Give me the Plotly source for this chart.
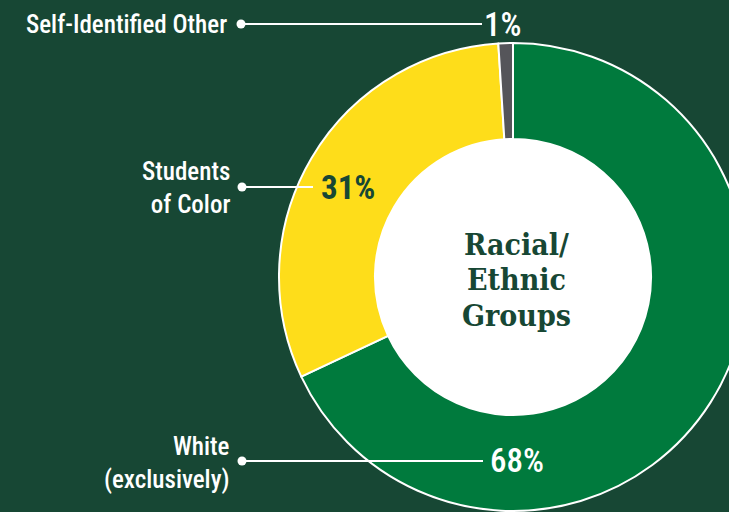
import plotly.graph_objects as go

# ---- data ----
groups = ["White (exclusively)", "Students of Color", "Self-Identified Other"]
label_lines = ["White<br>(exclusively)", "Students<br>of Color", "Self-Identified Other"]
shares = [68, 31, 1]
pct_labels = [f"{v}%" for v in shares]
slice_colors = ["#007a3d", "#fedd1a", "#55555a"]
center_title = ["Racial/", "Ethnic", "Groups"]

BG = "#174734"
W, H = 760, 520  # canvas a bit larger than the window so the ring is cropped like the original

def px(x):
    return x / W

def py(y):
    return 1 - y / H

cx, cy, R = 513, 277, 234

fig = go.Figure()
fig.add_trace(go.Pie(
    labels=groups, values=shares, sort=False, direction="clockwise", rotation=0,
    hole=0.59, textinfo="none", hoverinfo="label+percent", showlegend=False,
    marker=dict(colors=slice_colors, line=dict(color="white", width=2)),
    domain=dict(x=[px(cx - R), px(cx + R)], y=[py(cy + R), py(cy - R)]),
))

shapes = []
# white disc behind the hole
shapes.append(dict(type="circle", xref="paper", yref="paper", layer="below",
                   x0=px(cx - 180), x1=px(cx + 180), y0=py(cy + 180), y1=py(cy - 180),
                   fillcolor="white", line=dict(width=0)))

# leader lines: (y, x_start, x_end)
leaders = [(461, 242, 483), (187, 242, 313), (24, 241, 482)]
for (ly, x0, x1) in leaders:
    shapes.append(dict(type="line", xref="paper", yref="paper", layer="above",
                       x0=px(x0), x1=px(x1), y0=py(ly), y1=py(ly),
                       line=dict(color="white", width=2)))
    r = 4.5
    shapes.append(dict(type="circle", xref="paper", yref="paper", layer="above",
                       x0=px(x0 - r), x1=px(x0 + r), y0=py(ly + r), y1=py(ly - r),
                       fillcolor="white", line=dict(width=0)))

LABEL_FONT = "Roboto Condensed, Liberation Sans Narrow, DejaVu Sans Condensed, Roboto, sans-serif"
annotations = []
label_pos = [(232, 463), (232, 188), (229, 24)]
for txt, (lx, ly) in zip(label_lines, label_pos):
    annotations.append(dict(text=txt, xref="paper", yref="paper", x=px(lx), y=py(ly),
                            xanchor="right", yanchor="middle", align="right", showarrow=False,
                            font=dict(family=LABEL_FONT, size=25, color="white", weight=500)))

pct_pos = [(517, 460), (348, 187), (502, 24)]
pct_colors = ["white", BG, "white"]
for txt, (lx, ly), c in zip(pct_labels, pct_pos, pct_colors):
    annotations.append(dict(text=txt, xref="paper", yref="paper", x=px(lx), y=py(ly),
                            xanchor="center", yanchor="middle", showarrow=False,
                            font=dict(family=LABEL_FONT, size=33, color=c,
                                      weight=700 if c == BG else 500)))

for i, line in enumerate(center_title):
    annotations.append(dict(text=line, xref="paper", yref="paper",
                            x=px(516), y=py(244 + 35.5 * i), xanchor="center", yanchor="middle",
                            showarrow=False,
                            font=dict(family="DejaVu Serif Condensed, DejaVu Serif, serif",
                                      size=30, color=BG, weight=800)))

fig.update_layout(width=W, height=H, margin=dict(l=0, r=0, t=0, b=0),
                  paper_bgcolor=BG, plot_bgcolor=BG,
                  shapes=shapes, annotations=annotations)

fig.write_html("out.html", config={"displayModeBar": False},
               post_script="document.body.style.margin='0';document.body.style.overflow='hidden';"
                           "document.documentElement.style.overflow='hidden';")
